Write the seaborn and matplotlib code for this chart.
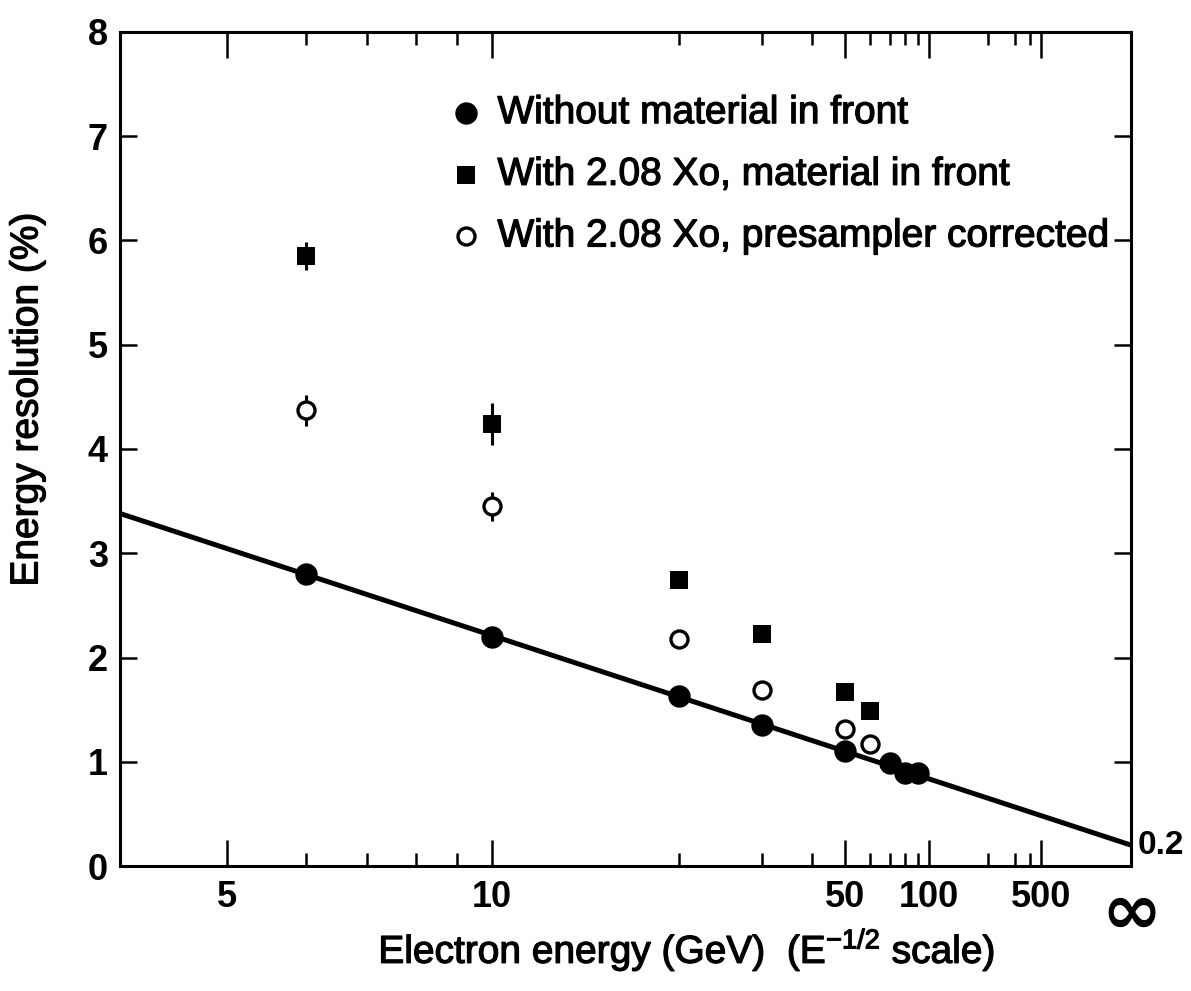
import numpy as np
import pandas as pd
import matplotlib
matplotlib.use("Agg")
import matplotlib.pyplot as plt
import matplotlib.transforms as mtransforms
import matplotlib.patheffects as pe
import seaborn as sns

# Beam energies (GeV) and measured resolutions (%)
energy_bare = [6, 10, 20, 30, 50, 70, 80, 90]
res_bare = [2.80, 2.20, 1.63, 1.35, 1.10, 0.99, 0.89, 0.89]

energy_mat = [6, 10, 20, 30, 50, 60]
res_mat = [5.85, 4.24, 2.74, 2.23, 1.67, 1.49]
err_mat = [0.13, 0.20, 0.0, 0.0, 0.0, 0.0]

energy_corr = [6, 10, 20, 30, 50, 60]
res_corr = [4.37, 3.45, 2.18, 1.69, 1.31, 1.17]
err_corr = [0.15, 0.14, 0.0, 0.0, 0.0, 0.0]

# Linear fit in 1/sqrt(E): sigma/E = stochastic / sqrt(E) + constant
fit_stochastic = 6.36
fit_constant = 0.2

labels = [
    "Without material in front",
    "With 2.08 Xo, material in front",
    "With 2.08 Xo, presampler corrected",
]

major_energies = [5, 10, 50, 100, 500]
major_labels = ["5", "10", "50", "100", "500"]
minor_energies = [6, 7, 8, 9, 20, 30, 40, 60, 70, 80, 90, 200, 300, 400]
e_min = 4.0


def inv_sqrt(e):
    return 1.0 / np.sqrt(np.asarray(e, dtype=float))


sns.set_theme(style="ticks")
plt.rcParams["font.family"] = ["Liberation Sans", "DejaVu Sans"]
plt.rcParams["mathtext.fontset"] = "custom"
plt.rcParams["mathtext.rm"] = "Liberation Sans"
plt.rcParams["mathtext.default"] = "regular"
plt.rcParams["text.color"] = "black"
plt.rcParams["axes.labelcolor"] = "black"
plt.rcParams["xtick.color"] = "black"
plt.rcParams["ytick.color"] = "black"

heavy = [pe.withStroke(linewidth=0.9, foreground="black")]

fig = plt.figure(figsize=(11.91, 9.91), dpi=100)
ax = fig.add_axes([0.101, 0.126, 0.849, 0.842])

df_bare = pd.DataFrame({"x": inv_sqrt(energy_bare), "y": res_bare})
df_mat = pd.DataFrame({"x": inv_sqrt(energy_mat), "y": res_mat, "e": err_mat})
df_corr = pd.DataFrame({"x": inv_sqrt(energy_corr), "y": res_corr, "e": err_corr})

# fit line across the full axis range
x_line = np.array([inv_sqrt(e_min), 0.0])
df_line = pd.DataFrame({"x": x_line, "y": fit_constant + fit_stochastic * x_line})
sns.lineplot(data=df_line, x="x", y="y", color="black", linewidth=3.6,
             ax=ax, legend=False, sort=False, zorder=2)

# error bars
for d in (df_mat, df_corr):
    sub = d[d["e"] > 0]
    ax.errorbar(sub["x"], sub["y"], yerr=sub["e"], fmt="none",
                ecolor="black", elinewidth=2.2, capsize=0, zorder=3)

sns.scatterplot(data=df_bare, x="x", y="y", marker="o", s=260,
                color="black", edgecolor="black", linewidth=0,
                label=labels[0], ax=ax, zorder=4)
sns.scatterplot(data=df_mat, x="x", y="y", marker="s", s=165,
                color="black", edgecolor="black", linewidth=0,
                label=labels[1], ax=ax, zorder=4)
sns.scatterplot(data=df_corr, x="x", y="y", marker="o", s=150,
                facecolor="white", edgecolor="black", linewidth=2.4,
                label=labels[2], ax=ax, zorder=4)

ax.set_xlim(inv_sqrt(e_min), 0.0)
ax.set_ylim(0, 8)

major_pos = list(inv_sqrt(major_energies)) + [0.0]
ax.set_xticks(major_pos)
ax.set_xticklabels(major_labels + ["\u221e"])
ax.set_xticks(inv_sqrt(minor_energies), minor=True)
ax.set_yticks(range(0, 9))

ax.tick_params(axis="x", which="major", direction="in", length=19, width=1.8,
               top=True, bottom=True, pad=10, labelsize=26)
ax.tick_params(axis="x", which="minor", direction="in", length=9.5, width=1.8,
               top=True, bottom=True)
ax.tick_params(axis="y", which="major", direction="in", length=12, width=1.8,
               left=True, right=True, pad=9, labelsize=26)
for lab in ax.get_xticklabels() + ax.get_yticklabels():
    lab.set_fontweight("bold")
inf_label = ax.get_xticklabels()[-1]
inf_label.set_fontsize(52)
inf_label.set_family("DejaVu Sans")
inf_label.set_fontweight("bold")

for sp in ax.spines.values():
    sp.set_linewidth(2.2)
    sp.set_color("black")

ax.set_xlabel("Electron energy (GeV)  (E$^{-1/2}$ scale)", fontsize=28)
ax.set_ylabel("Energy resolution (%)", fontsize=28)
ax.xaxis.set_label_coords(0.56, -0.072)
ax.yaxis.set_label_coords(-0.074, 0.559)
ax.xaxis.label.set_path_effects(heavy)
ax.yaxis.label.set_path_effects(heavy)

# constant term marked at infinite energy
trans = mtransforms.blended_transform_factory(ax.transAxes, ax.transData)
ax.text(1.006, fit_constant, f"{fit_constant:g}", transform=trans,
        fontsize=24, fontweight="bold", ha="left", va="center")

leg = ax.legend(loc="upper left", bbox_to_anchor=(0.323, 0.924), frameon=False,
                fontsize=28, handlelength=1.0, handletextpad=0.3,
                labelspacing=0.66, borderpad=0, borderaxespad=0)
for t in leg.get_texts():
    t.set_path_effects(heavy)

fig.savefig("out.png", dpi=100, facecolor="white")
